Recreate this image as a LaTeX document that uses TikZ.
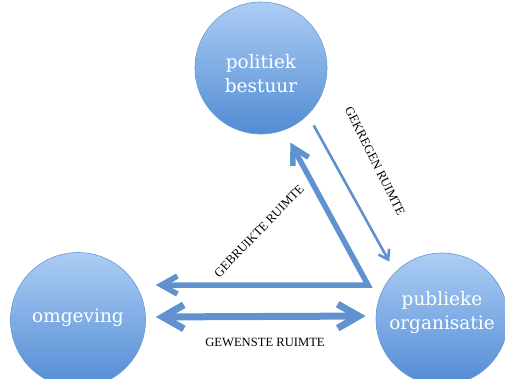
\documentclass[tikz,border=0pt]{standalone}
\usepackage{fontspec}
\setmainfont{DejaVu Serif}
\newfontfamily\labelfont{Liberation Serif}
\usepackage{xcolor}
\usetikzlibrary{arrows.meta}
\definecolor{pijlblauw}{RGB}{95,146,207}
\definecolor{bollicht}{RGB}{172,205,245}
\definecolor{boldonker}{RGB}{82,140,212}
\definecolor{bolrand}{RGB}{105,152,210}

\begin{document}
\begin{tikzpicture}[x=1pt, y=-1pt,
  bol/.style={circle, draw=bolrand, line width=0.6pt,
              top color=bollicht, bottom color=boldonker,
              minimum size=132pt, inner sep=0pt, text=white,
              font=\fontsize{18.5}{24}\selectfont, align=center},
  lbl/.style={font=\labelfont\fontsize{12.6}{14}\selectfont, inner sep=1pt},
  dik/.style={draw=pijlblauw, line width=5.5pt, line join=miter,
              {Straight Barb[length=16pt,width=18pt]}-{Straight Barb[length=16pt,width=18pt]}},
  dubbel/.style={draw=pijlblauw, line width=7pt,
              {Straight Barb[length=21pt,width=24pt]}-{Straight Barb[length=21pt,width=24pt]}},
  dun/.style={draw=pijlblauw, line width=2.6pt,
              -{Straight Barb[length=9pt,width=12pt]}},
]
  \useasboundingbox (0,0) rectangle (505,378);
  \node[bol] (bestuur) at (261,68) {\rule{0pt}{26pt}politiek\\bestuur};
  \node[bol, minimum size=135pt] (omgeving) at (78,320) {\rule[-9pt]{0pt}{0pt}omgeving};
  \node[bol] (organisatie) at (442,319) {publieke\\organisatie\rule[-18pt]{0pt}{0pt}};
  \coordinate (hoek) at (368,285);
  % gebruikte ruimte: van organisatie terug naar bestuur en omgeving
  \draw[dik, shorten <=10pt, shorten >=14pt] (omgeving.east |- hoek) -- (hoek) -- (bestuur.-70);
  % gekregen ruimte
  \draw[dun, shorten <=12pt, shorten >=12pt] (bestuur.-45) -- (organisatie.135);
  % gewenste ruimte
  \draw[dubbel, shorten <=10pt, shorten >=10pt] ([yshift=3pt]omgeving.east) -- ([yshift=3pt]organisatie.west);
  \node[lbl] (gewenst) at (265,342) {GEWENSTE RUIMTE};
  \node[lbl, rotate=46] (gebruikt) at (259,231) {GEBRUIKTE RUIMTE};
  \node[lbl, rotate=-63.5] (gekregen) at (375,161) {GEKREGEN RUIMTE};
\end{tikzpicture}
\end{document}
